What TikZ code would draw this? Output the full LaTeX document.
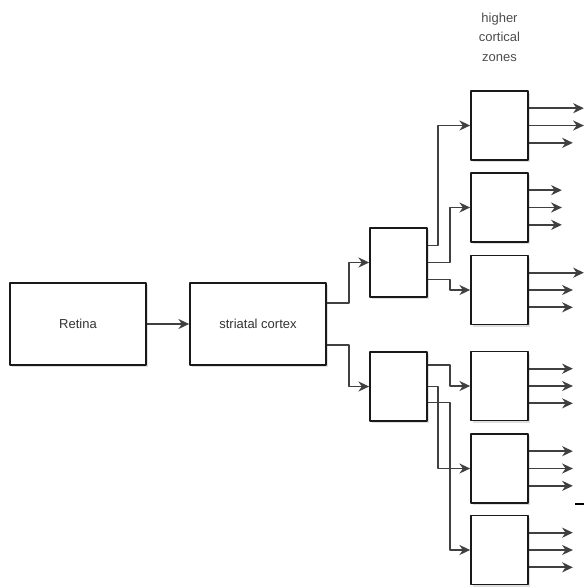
\documentclass[tikz,border=0pt]{standalone}
\usepackage{fontspec}
\setmainfont{Liberation Sans}
\usetikzlibrary{arrows.meta,shadows}
\begin{document}
\begin{tikzpicture}[x=0.75pt, y=-0.75pt, font=\fontsize{9.75}{14.6}\selectfont, line join=round,
  box/.style={draw=black!90, line width=1.3pt, fill=white, inner sep=0pt, text=black!80,
    drop shadow={shadow xshift=1.2pt, shadow yshift=-1.8pt, opacity=0.25}},
  wide/.style={box, minimum width=102pt, minimum height=61.5pt},
  small/.style={box, minimum width=42.75pt, minimum height=51.75pt},
  link/.style={draw=black!75, line width=1.3pt, -{Stealth[length=8pt, width=7.5pt, inset=2.5pt]}}]
				\useasboundingbox (0,0) rectangle (584,587);
				\node[wide] (ret) at (78,324) {Retina};
				\node[wide] (str) at (258,324) {striatal cortex};
				\node[small] (mu) at (398.5,262.5) {};
				\node[small] (ml) at (398.5,386.5) {};
				\foreach \n/\y in {z1/125.5, z2/207.5, z3/290, z4/386, z5/468.5, z6/550}
				\node[small] (\n) at (499.5,\y) {};
				\node[align=center, text=black!70] (hcz) at (499.5,37) {higher\\cortical\\zones};
				\draw[link] (ret) -- (str);
				\draw[link] ([yshift=15.5pt]str.east) -- ++(22,0) |- (mu.west);
				\draw[link] ([yshift=-15.5pt]str.east) -- ++(22,0) |- (ml.west);
				\draw[link] ([yshift=12.75pt]mu.east) -- ++(10,0) |- (z1.west);
				\draw[link] (mu.east) -- ++(22,0) |- (z2.west);
				\draw[link] ([yshift=-12.75pt]mu.east) -- ++(22,0) |- (z3.west);
				\draw[link] ([yshift=16pt]ml.east) -- ++(22,0) |- (z4.west);
				\draw[link] (ml.east) -- ++(10,0) |- (z5.west);
				\draw[link] ([yshift=-12pt]ml.east) -- ++(22,0) |- (z6.west);
				\foreach \n/\a/\b/\c in {z1/55/55/44, z2/33/33/33, z3/55/44/44, z4/44/44/44, z5/44/44/44, z6/44/44/44} {
				\draw[link] ([yshift=13pt]\n.east) -- ++(\a,0);
				\draw[link] (\n.east) -- ++(\b,0);
				\draw[link] ([yshift=-13pt]\n.east) -- ++(\c,0);
				}
				\coordinate (d1) at (575,504);
				\coordinate (d2) at (584,504);
				\draw[line width=1.5pt] (d1) -- (d2);
\end{tikzpicture}
\end{document}
